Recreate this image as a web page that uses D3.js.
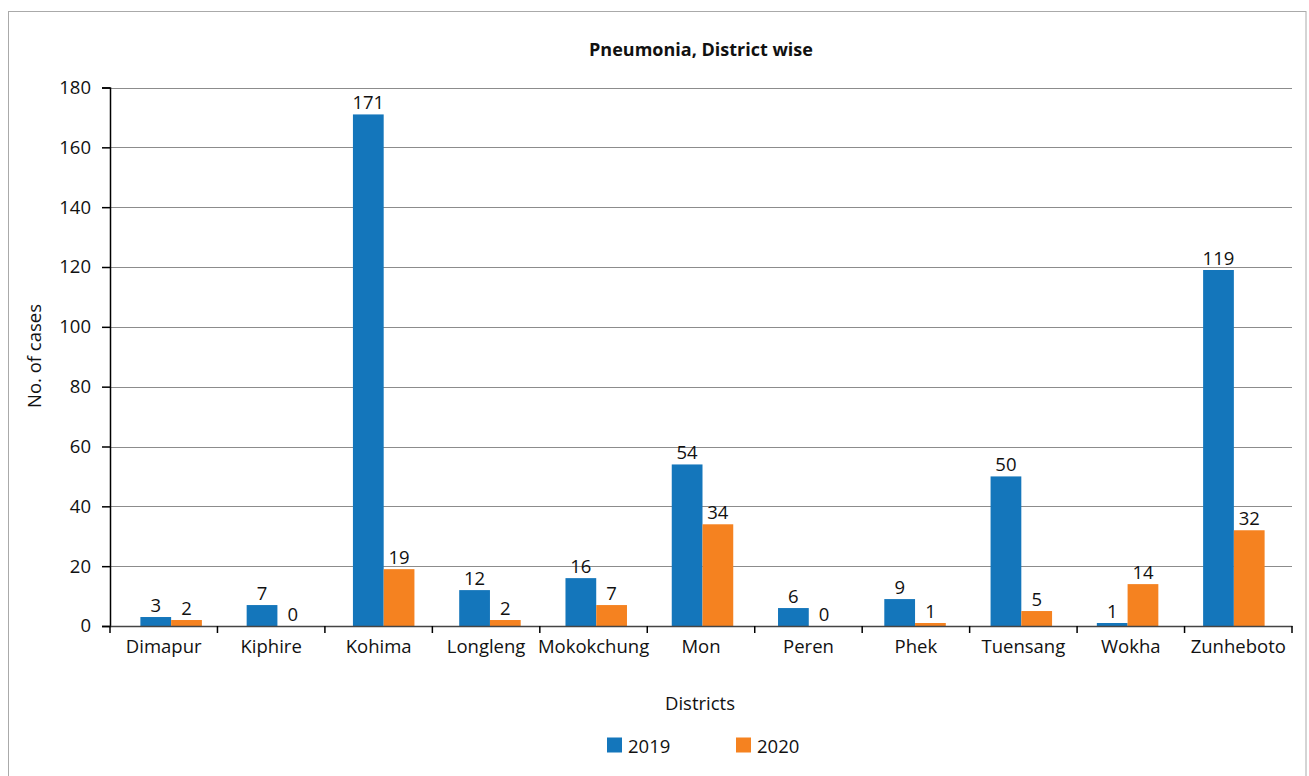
<!DOCTYPE html>
<html><head><meta charset="utf-8">
<script src="https://cdn.jsdelivr.net/npm/d3@7"></script>
<style>body{margin:0;background:#fff}svg{display:block}text{font-family:"Open Sans","Noto Sans",sans-serif;fill:#111}</style>
</head><body><svg id="c" width="1309" height="776"></svg>
<script>
const districts = ["Dimapur","Kiphire","Kohima","Longleng","Mokokchung","Mon","Peren","Phek","Tuensang","Wokha","Zunheboto"];
const series = ["2019","2020"];
const values2019 = [3,7,171,12,16,54,6,9,50,1,119];
const values2020 = [2,0,19,2,7,34,0,1,5,14,32];
const yTicks = [0,20,40,60,80,100,120,140,160,180];
const colors = ["#1476bb","#f58220"];
const FS = 18.5;

const svg = d3.select("#c");
svg.append("rect").attr("x",8.5).attr("y",11.5).attr("width",1297.5).attr("height",780).attr("fill","none").attr("stroke","#aaa");

// axis categories
const x0 = d3.scaleBand().domain(districts).range([110,1292]);
// bar groups (slightly offset layout as in the original)
const xb = d3.scaleBand().domain(districts).range([118,1287]);
const x1 = d3.scaleBand().domain(series).range([xb.bandwidth()/2-30.75, xb.bandwidth()/2+30.75]);
const y = d3.scaleLinear().domain([0,180]).range([626,87.5]);

// gridlines
svg.append("g").selectAll("line").data(yTicks.filter(d=>d>0)).join("line")
  .attr("x1",110).attr("x2",1292).attr("y1",d=>Math.round(y(d))+0.5).attr("y2",d=>Math.round(y(d))+0.5)
  .attr("stroke","#8c8c8c").attr("stroke-width",1);

const data = districts.map((d,i)=>({d, v:[values2019[i],values2020[i]]}));
const g = svg.append("g");
data.forEach(row=>{
  series.forEach((s,j)=>{
    const v=row.v[j];
    g.append("rect").attr("x",xb(row.d)+x1(s)).attr("width",x1.bandwidth())
      .attr("y",y(v)).attr("height",Math.max(0,626-y(v))).attr("fill",colors[j]);
    g.append("text").attr("x",xb(row.d)+x1(s)+x1.bandwidth()/2).attr("y",y(v)-5)
      .attr("text-anchor","middle").attr("font-size",FS).text(v);
  });
});

// y axis
const ya = svg.append("g").attr("transform","translate(110,0)")
  .call(d3.axisLeft(y).tickValues(yTicks).tickSize(8).tickPadding(11));
ya.select(".domain").attr("stroke","#000").attr("stroke-width",1.5);
ya.selectAll(".tick line").attr("stroke","#000").attr("stroke-width",1.5);
ya.selectAll(".tick text").attr("font-size",FS).attr("font-family","Open Sans").attr("fill","#111");

// x axis
const xa = svg.append("g").attr("transform","translate(0,626)")
  .call(d3.axisBottom(x0).tickSize(0).tickPadding(14));
xa.select(".domain").attr("stroke","#444").attr("stroke-width",1.5);
xa.selectAll(".tick text").attr("font-size",FS).attr("font-family","Open Sans").attr("fill","#111");
svg.append("g").selectAll("line").data(d3.range(districts.length+1)).join("line")
  .attr("x1",i=>110+i*x0.step()).attr("x2",i=>110+i*x0.step()).attr("y1",626).attr("y2",633)
  .attr("stroke","#000").attr("stroke-width",1.5);

svg.append("text").attr("x",701).attr("y",56).attr("text-anchor","middle").attr("font-size",18).attr("font-weight","bold").text("Pneumonia, District wise");
svg.append("text").attr("transform","translate(41,356) rotate(-90)").attr("text-anchor","middle").attr("font-size",FS).text("No. of cases");
svg.append("text").attr("x",700).attr("y",710).attr("text-anchor","middle").attr("font-size",FS).text("Districts");

const leg = svg.append("g");
const legX=[607,736];
series.forEach((s,j)=>{
  leg.append("rect").attr("x",legX[j]).attr("y",737.5).attr("width",15).attr("height",15).attr("fill",colors[j]);
  leg.append("text").attr("x",legX[j]+21).attr("y",753).attr("font-size",FS).text(s);
});
</script></body></html>
